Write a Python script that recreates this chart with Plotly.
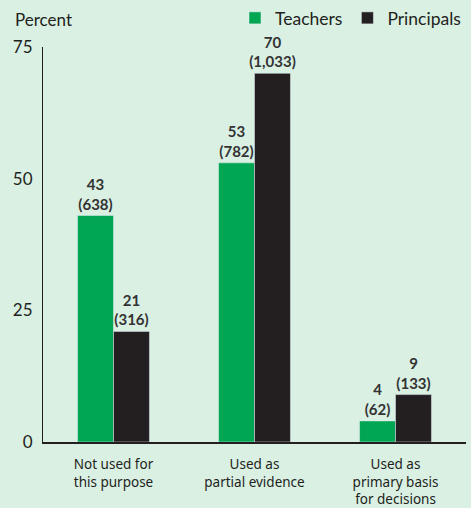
import plotly.graph_objects as go

categories = ["Not used for<br>this purpose", "Used as<br>partial evidence", "Used as<br>primary basis<br>for decisions"]
teachers_pct = [43, 53, 4]
teachers_n = ["638", "782", "62"]
principals_pct = [21, 70, 9]
principals_n = ["316", "1,033", "133"]

BG = "#d9f0e3"
GREEN = "#00a651"
BLACK = "#231f20"
FONT = "Lato"

def labels(p, n):
    return [f"<b>{a}</b><br><b>({b})</b>" for a, b in zip(p, n)]

fig = go.Figure()
fig.add_trace(go.Bar(name="Teachers", x=categories, y=teachers_pct, marker_color=GREEN,
                     text=labels(teachers_pct, teachers_n), textposition="outside",
                     constraintext="none",
                     textfont=dict(size=15, color="#333333", family=FONT), cliponaxis=False))
fig.add_trace(go.Bar(name="Principals", x=categories, y=principals_pct, marker_color=BLACK,
                     text=labels(principals_pct, principals_n), textposition="outside",
                     constraintext="none",
                     textfont=dict(size=15, color="#333333", family=FONT), cliponaxis=False))

fig.update_layout(
    width=471, height=508,
    paper_bgcolor=BG, plot_bgcolor=BG,
    margin=dict(l=43, r=5, t=47, b=66, autoexpand=False),
    barmode="group", bargap=0.49, bargroupgap=0,
    font=dict(family=FONT, size=16, color="#231f20"),
    showlegend=True,
    legend=dict(orientation="h", x=1.0, xanchor="right", y=1.0, yanchor="top",
                yref="container", font=dict(size=17.5), bgcolor="rgba(0,0,0,0)",
                traceorder="normal", tracegroupgap=0, itemwidth=30),
)
fig.update_yaxes(range=[0, 75], tickvals=[0, 25, 50, 75], showgrid=False, zeroline=False,
                 showline=True, linecolor=BLACK, linewidth=1, ticks="", automargin=False,
                 ticklabelstandoff=6,
                 tickfont=dict(size=17, color="#231f20"))
fig.update_xaxes(showline=True, linecolor=BLACK, linewidth=2, ticks="", automargin=False,
                 ticklabelstandoff=9,
                 tickfont=dict(size=13.5, color="#231f20", family="Noto Sans"))
fig.add_annotation(text="Percent", xref="paper", yref="paper", x=-0.07, y=1.0, yshift=28,
                   xanchor="left", yanchor="middle", showarrow=False,
                   font=dict(size=17, color="#231f20"))

fig.write_html("out.html", config={"displayModeBar": False},
               post_script="document.body.style.margin='0';document.body.style.background='%s';" % BG)
